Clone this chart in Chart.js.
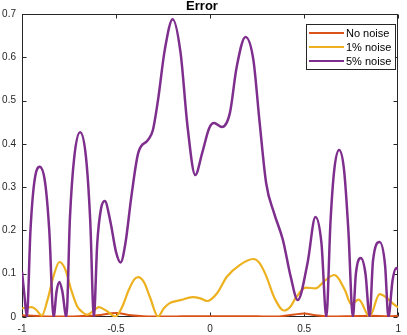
<!DOCTYPE html>
<html>
<head>
<meta charset="utf-8">
<script src="https://cdn.jsdelivr.net/npm/chart.js@4.4.1/dist/chart.umd.min.js"></script>
<style>
  html, body { margin: 0; padding: 0; background: #fff; }
</style>
</head>
<body>
<canvas id="myChart" width="407" height="335"></canvas>
<script>
// series labels
var seriesNames = ['No noise', '1% noise', '5% noise'];

// No noise
var xNone = [-1, -0.9, -0.8, -0.7, -0.6, -0.5, -0.42, -0.3, -0.2, -0.1, 0, 0.1, 0.2, 0.3, 0.38, 0.45, 0.5, 0.56, 0.65, 0.75, 0.85, 0.95, 1];
var eNone = [0.004, 0.002, 0.001, 0.002, 0.004, 0.009, 0.004, 0.001, 0.001, 0.002, 0.002, 0.002, 0.002, 0.001, 0.002, 0.006, 0.008, 0.004, 0.001, 0.002, 0.003, 0.002, 0.003];

// 1% noise
var x1 = [-1, -0.974, -0.948, -0.921, -0.895, -0.864, -0.832, -0.801, -0.77, -0.738, -0.707, -0.681, -0.654,
  -0.618, -0.592, -0.55, -0.503, -0.466, -0.435, -0.403, -0.382, -0.351, -0.319, -0.277, -0.246, -0.215,
  -0.157, -0.094, -0.052, -0.016, 0.037, 0.089, 0.157, 0.23, 0.262, 0.298, 0.34, 0.393, 0.429, 0.455,
  0.508, 0.56, 0.613, 0.66, 0.717, 0.749, 0.79, 0.848, 0.901, 0.937, 0.969, 1];
var e1 = [0.02, 0.022, 0.023, 0.015, 0.003, 0.04, 0.095, 0.127, 0.11, 0.062, 0.025, 0.012, 0.005,
  0.015, 0.023, 0.014, 0.001, 0.025, 0.06, 0.087, 0.092, 0.08, 0.045, 0.001, 0.02, 0.032,
  0.039, 0.046, 0.043, 0.037, 0.055, 0.093, 0.12, 0.134, 0.125, 0.095, 0.046, 0.015, 0.025, 0.044,
  0.068, 0.066, 0.085, 0.097, 0.062, 0.03, 0.04, 0.001, 0.053, 0.045, 0.032, 0.022];

// 5% noise
var x5 = [-1, -0.987, -0.974, -0.955, -0.935, -0.906, -0.877, -0.855, -0.832, -0.816, -0.801, -0.786, -0.764,
  -0.745, -0.722, -0.691, -0.66, -0.637, -0.618, -0.6, -0.58, -0.56, -0.53, -0.5, -0.476, -0.45, -0.419,
  -0.382, -0.33, -0.304, -0.277, -0.241, -0.199, -0.157, -0.12, -0.079, -0.042, -0.005, 0.021, 0.063,
  0.105, 0.141, 0.188, 0.23, 0.262, 0.298, 0.34, 0.387, 0.429, 0.466, 0.518, 0.56, 0.592, 0.618,
  0.64, 0.66, 0.686, 0.712, 0.735, 0.759, 0.775, 0.801, 0.826, 0.848, 0.866, 0.901, 0.93, 0.948,
  0.97, 0.99, 1];
var e5 = [0.105, 0.05, 0, 0.2, 0.31, 0.347, 0.31, 0.2, 0, 0.06, 0.081, 0.06, 0,
  0.23, 0.37, 0.427, 0.37, 0.22, 0, 0.17, 0.25, 0.268, 0.22, 0.15, 0.126, 0.171, 0.277,
  0.379, 0.409, 0.432, 0.501, 0.617, 0.688, 0.61, 0.44, 0.328, 0.379, 0.436, 0.448, 0.439,
  0.471, 0.577, 0.647, 0.594, 0.455, 0.309, 0.24, 0.178, 0.092, 0.039, 0.125, 0.231, 0.17, 0,
  0.22, 0.34, 0.386, 0.34, 0.2, 0, 0.1, 0.136, 0.1, 0, 0.13, 0.173, 0.12, 0,
  0.085, 0.113, 0.108];

var xTicks = [-1, -0.5, 0, 0.5, 1];
var yTicks = [0, 0.1, 0.2, 0.3, 0.4, 0.5, 0.6, 0.7];

var colors = ['#D95319', '#EDB120', '#7E2F8E'];
var axisColor = '#262626';
var fontFam = '"Liberation Sans", Arial, Helvetica, sans-serif';

function pts(xs, ys) {
  return xs.map(function (x, i) { return { x: x, y: ys[i] }; });
}

// box, inward ticks and a MATLAB-like legend
var frame = {
  id: 'frame',
  beforeDatasetsDraw: function (chart) {
    var c = chart.ctx, a = chart.chartArea;
    var sx = chart.scales.x, sy = chart.scales.y;
    var L = Math.round(a.left) + 0.5, R = Math.round(a.right) - 0.5;
    var T = Math.round(a.top) + 0.5, B = Math.round(a.bottom) - 0.5;
    c.save();
    c.strokeStyle = axisColor;
    c.lineWidth = 1;
    c.strokeRect(L, T, R - L, B - T);
    c.beginPath();
    xTicks.forEach(function (v) {
      var p = Math.round(sx.getPixelForValue(v)) + 0.5;
      c.moveTo(p, B); c.lineTo(p, B - 4);
      c.moveTo(p, T); c.lineTo(p, T + 4);
    });
    yTicks.forEach(function (v) {
      var p = Math.round(sy.getPixelForValue(v)) + 0.5;
      c.moveTo(L, p); c.lineTo(L + 4, p);
      c.moveTo(R, p); c.lineTo(R - 4, p);
    });
    c.stroke();
    c.restore();
  },
  afterDatasetsDraw: function (chart) {
    var c = chart.ctx;
    var bx = 306.5, by = 24.5, bw = 89, bh = 45;
    c.save();
    c.fillStyle = '#fff';
    c.fillRect(bx, by, bw, bh);
    c.strokeStyle = axisColor;
    c.lineWidth = 1;
    c.strokeRect(bx, by, bw, bh);
    c.font = '11px ' + fontFam;
    c.textBaseline = 'middle';
    c.textAlign = 'left';
    seriesNames.forEach(function (name, i) {
      var y = 33 + i * 14;
      c.strokeStyle = colors[i];
      c.lineWidth = 2;
      c.beginPath();
      c.moveTo(309, y); c.lineTo(344, y);
      c.stroke();
      c.fillStyle = '#000';
      c.fillText(name, 346, y + 0.5);
    });
    c.restore();
  }
};

var ctx = document.getElementById('myChart').getContext('2d');
var chart = new Chart(ctx, {
  type: 'line',
  data: {
    datasets: [
      { label: seriesNames[0], data: pts(xNone, eNone), borderColor: colors[0], borderWidth: 2, order: 3 },
      { label: seriesNames[1], data: pts(x1, e1), borderColor: colors[1], borderWidth: 2.2, order: 2 },
      { label: seriesNames[2], data: pts(x5, e5), borderColor: colors[2], borderWidth: 2.5, order: 1 }
    ]
  },
  options: {
    responsive: false,
    animation: false,
    devicePixelRatio: 1,
    layout: { padding: { left: 0, right: 3, top: 0, bottom: 0 } },
    elements: {
      point: { radius: 0 },
      line: { cubicInterpolationMode: 'monotone', fill: false }
    },
    plugins: {
      legend: { display: false },
      tooltip: { enabled: false },
      title: {
        display: true,
        text: 'Error',
        color: '#000',
        font: { family: fontFam, size: 13, weight: 'bold', lineHeight: 0.92 },
        padding: { top: 0, bottom: 2 }
      }
    },
    scales: {
      x: {
        type: 'linear',
        min: -1, max: 1,
        grid: { display: false, drawTicks: false },
        border: { display: false },
        afterBuildTicks: function (s) { s.ticks = xTicks.map(function (v) { return { value: v }; }); },
        afterFit: function (s) { s.height = 18; },
        ticks: {
          autoSkip: false, maxRotation: 0, padding: 6,
          color: axisColor,
          font: { family: fontFam, size: 10 },
          callback: function (v) { return String(v); }
        }
      },
      y: {
        type: 'linear',
        min: 0, max: 0.7,
        grid: { display: false, drawTicks: false },
        border: { display: false },
        afterBuildTicks: function (s) { s.ticks = yTicks.map(function (v) { return { value: v }; }); },
        afterFit: function (s) { s.width = 22; },
        ticks: {
          autoSkip: false, padding: 6,
          color: axisColor,
          font: { family: fontFam, size: 10 },
          callback: function (v) { return String(v); }
        }
      }
    }
  },
  plugins: [frame]
});
</script>
</body>
</html>
